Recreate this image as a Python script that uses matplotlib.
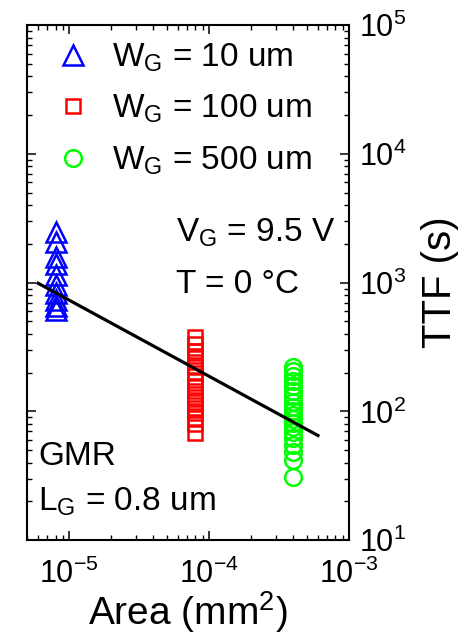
import matplotlib
matplotlib.use('Agg')
import matplotlib.pyplot as plt

plt.rcParams['font.family'] = ['Liberation Sans', 'DejaVu Sans']
plt.rcParams['mathtext.fontset'] = 'custom'
plt.rcParams['mathtext.rm'] = 'Liberation Sans'
plt.rcParams['mathtext.it'] = 'Liberation Sans:italic'
plt.rcParams['mathtext.bf'] = 'Liberation Sans:bold'
plt.rcParams['axes.unicode_minus'] = False

# time-to-failure per gate width, all measured at the same area
area_w10 = 8e-6
ttf_w10 = [2470, 2070, 1580, 1390, 1140, 960, 830, 730, 660, 610]

area_w100 = 8e-5
ttf_w100 = [378, 333, 294, 269, 241, 221, 198, 175, 157, 144, 129, 118, 106, 97, 89, 80, 68]

area_w500 = 4e-4
ttf_w500 = [221, 205, 188, 172, 157, 144, 131, 118, 108, 100, 94, 87, 81, 76, 69, 62, 55, 48, 42, 31]

# power-law fit through the three groups
fit_area = [6e-6, 6e-4]
fit_ttf = [990, 65]

fig = plt.figure(figsize=(4.65, 6.37), dpi=100)
ax = fig.add_axes([0.058, 0.152, 0.6925, 0.8085])

ms = dict(markerfacecolor='none', markeredgewidth=1.8, linestyle='none')
ax.plot([area_w10] * len(ttf_w10), ttf_w10, marker='^', markersize=14,
        markeredgecolor='#0000ff', label='W$_\\mathrm{G}$ = 10 um', **ms)
ax.plot([area_w100] * len(ttf_w100), ttf_w100, marker='s', markersize=10,
        markeredgecolor='#ff0000', label='W$_\\mathrm{G}$ = 100 um', **ms)
ax.plot([area_w500] * len(ttf_w500), ttf_w500, marker='o', markersize=12,
        markeredgecolor='#00ff00', label='W$_\\mathrm{G}$ = 500 um', **ms)
ax.plot(fit_area, fit_ttf, color='black', linewidth=2.3)

ax.set_xscale('log')
ax.set_yscale('log')
ax.set_xlim(5e-6, 1e-3)
ax.set_ylim(10, 1e5)

for s in ax.spines.values():
    s.set_linewidth(1.5)
ax.tick_params(which='both', direction='in', top=True, bottom=True,
               left=True, right=True, labelleft=False, labelright=True)
ax.tick_params(which='major', length=6.5, width=1.1, labelsize=22, pad=7)
ax.tick_params(axis='x', which='major', pad=13)
ax.tick_params(which='minor', length=3.6, width=1.0)

ax.set_xlabel('Area (mm$^2$)', fontsize=28, labelpad=0)
ax.yaxis.set_label_position('right')
ax.set_ylabel('TTF (s)', fontsize=29, rotation=90, va='center', ha='center')
ax.yaxis.set_label_coords(1.283, 0.5)

ax.legend(loc='upper left', frameon=False, fontsize=24, numpoints=1,
          handlelength=0.9, handletextpad=0.72, labelspacing=0.57,
          borderaxespad=0.0, bbox_to_anchor=(0.055, 0.994))

ax.text(0.463, 0.579, 'V$_\\mathrm{G}$ = 9.5 V', transform=ax.transAxes,
        fontsize=24, va='baseline')
ax.text(0.463, 0.480, 'T = 0 °C', transform=ax.transAxes,
        fontsize=24, va='baseline')
ax.text(0.034, 0.146, 'GMR', transform=ax.transAxes,
        fontsize=24, va='baseline')
ax.text(0.034, 0.058, 'L$_\\mathrm{G}$ = 0.8 um', transform=ax.transAxes,
        fontsize=24, va='baseline')

fig.savefig('out.png', dpi=100)
